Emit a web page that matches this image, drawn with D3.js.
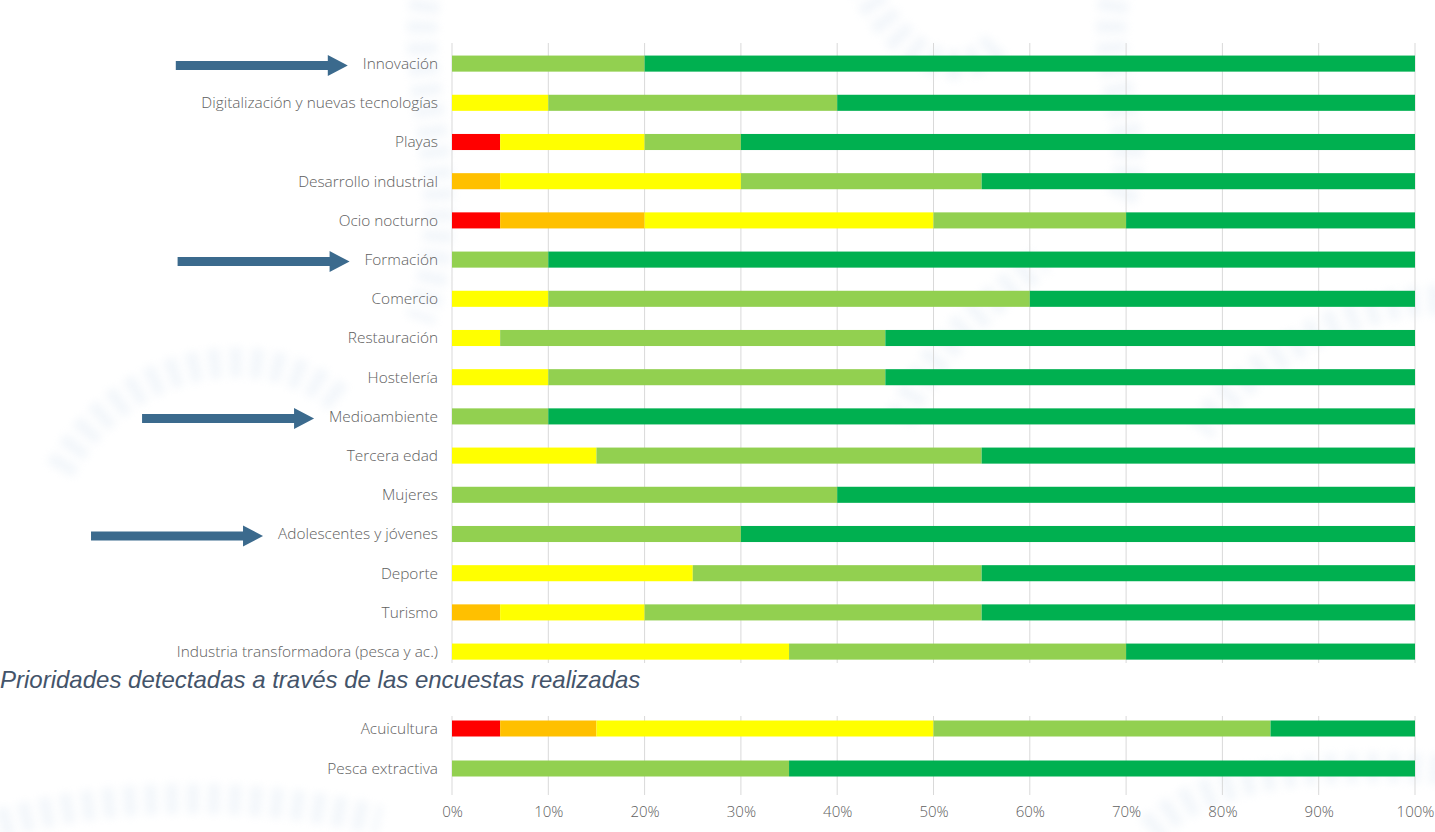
<!DOCTYPE html>
<html>
<head>
<meta charset="utf-8">
<script src="https://cdn.jsdelivr.net/npm/d3@7"></script>
<style>
  html, body { margin: 0; padding: 0; background: #fff; }
  svg { display: block; }
</style>
</head>
<body>
<div id="chart"></div>
<script>
// categories (top block and bottom block)
const topCategories = [
  "Innovación", "Digitalización y nuevas tecnologías", "Playas", "Desarrollo industrial",
  "Ocio nocturno", "Formación", "Comercio", "Restauración", "Hostelería", "Medioambiente",
  "Tercera edad", "Mujeres", "Adolescentes y jóvenes", "Deporte", "Turismo",
  "Industria transformadora (pesca y ac.)"
];
const bottomCategories = ["Acuicultura", "Pesca extractiva"];

// priority levels, lowest to highest (percent of answers)
const nivel1 = [0, 0, 5, 0, 5, 0, 0, 0, 0, 0, 0, 0, 0, 0, 0, 0,   5, 0];
const nivel2 = [0, 0, 0, 5, 15, 0, 0, 0, 0, 0, 0, 0, 0, 0, 5, 0,  10, 0];
const nivel3 = [0, 10, 15, 25, 30, 0, 10, 5, 10, 0, 15, 0, 0, 25, 15, 35,  35, 0];
const nivel4 = [20, 30, 10, 25, 20, 10, 50, 40, 35, 10, 40, 40, 30, 30, 35, 35,  35, 35];
const nivel5 = [80, 60, 70, 45, 30, 90, 40, 55, 55, 90, 45, 60, 70, 45, 45, 30,  15, 65];

const levels = ["nivel1", "nivel2", "nivel3", "nivel4", "nivel5"];
const levelColors = ["#ff0000", "#ffc000", "#ffff00", "#92d050", "#00b050"];

const xTicks = [0, 10, 20, 30, 40, 50, 60, 70, 80, 90, 100];
const highlighted = ["Innovación", "Formación", "Medioambiente", "Adolescentes y jóvenes"];
const caption = "Prioridades detectadas a través de las encuestas realizadas";

const width = 1435, height = 832;

const allCategories = topCategories.concat(bottomCategories);
const rows = allCategories.map((c, i) => ({
  cat: c, nivel1: nivel1[i], nivel2: nivel2[i], nivel3: nivel3[i], nivel4: nivel4[i], nivel5: nivel5[i]
}));

const svg = d3.select("#chart").append("svg")
  .attr("width", width)
  .attr("height", height);

// faint rope watermark in the background
const defs = svg.append("defs");
defs.append("filter").attr("id", "soft")
  .attr("x", "-20%").attr("y", "-20%").attr("width", "140%").attr("height", "140%")
  .append("feGaussianBlur").attr("stdDeviation", 4);

const rope = svg.append("g")
  .attr("filter", "url(#soft)")
  .attr("fill", "none")
  .attr("stroke", "#cfdeee")
  .attr("stroke-width", 30)
  .attr("stroke-dasharray", "12 9")
  .attr("opacity", 0.25);
const ropePaths = [
  "M 430 -20 C 400 80, 470 180, 420 320",
  "M 60 470 C 120 360, 260 330, 340 400",
  "M 860 -20 C 900 60, 960 90, 1000 40",
  "M 1120 -20 C 1090 60, 1150 140, 1120 200",
  "M 1440 300 C 1350 300, 1250 360, 1200 430",
  "M 900 420 C 940 330, 1000 300, 1040 260",
  "M -20 830 C 100 790, 250 790, 380 820",
  "M 1150 830 C 1200 780, 1300 760, 1440 770"
];
rope.selectAll("path").data(ropePaths).enter().append("path").attr("d", d => d);

const x = d3.scaleLinear().domain([0, 100]).range([452, 1415]);

const yTop = d3.scaleBand().domain(topCategories).range([44, 671.2]).paddingInner(0.59).paddingOuter(0.295);
const yBottom = d3.scaleBand().domain(bottomCategories).range([708.5, 788.5]).paddingInner(0.6).paddingOuter(0.3);

const blocks = [
  { y: yTop, grid: [43, 663], data: rows.slice(0, topCategories.length) },
  { y: yBottom, grid: [716, 795], data: rows.slice(topCategories.length) }
];

const stack = d3.stack().keys(levels);
const color = d3.scaleOrdinal().domain(levels).range(levelColors);

const labelFont = "'Segoe UI', 'Open Sans', sans-serif";

blocks.forEach(b => {
  // vertical gridlines
  svg.append("g")
    .selectAll("line")
    .data(xTicks)
    .enter().append("line")
      .attr("x1", d => x(d)).attr("x2", d => x(d))
      .attr("y1", b.grid[0]).attr("y2", b.grid[1])
      .attr("stroke", "#d9d9d9")
      .attr("stroke-width", 1);

  svg.append("g")
    .selectAll("g")
    .data(stack(b.data))
    .enter().append("g")
      .attr("fill", d => color(d.key))
    .selectAll("rect")
    .data(d => d)
    .enter().append("rect")
      .attr("x", d => x(d[0]))
      .attr("y", d => b.y(d.data.cat))
      .attr("width", d => x(d[1]) - x(d[0]))
      .attr("height", b.y.bandwidth());

  svg.append("g")
    .selectAll("text")
    .data(b.y.domain())
    .enter().append("text")
      .attr("class", "cat")
      .attr("x", 438)
      .attr("y", d => b.y(d) + b.y.bandwidth() / 2)
      .attr("dy", "0.35em")
      .attr("text-anchor", "end")
      .style("font-family", labelFont)
      .style("font-weight", 300)
      .style("font-size", "15.4px")
      .style("fill", "#606060")
      .text(d => d);
});

// x axis labels under the bottom block
const xAxis = svg.append("g")
  .attr("transform", "translate(0,795)")
  .call(d3.axisBottom(x).tickValues(xTicks).tickFormat(d => d + "%").tickSize(0).tickPadding(11));
xAxis.select(".domain").remove();
xAxis.selectAll("text")
  .style("font-family", labelFont)
  .style("font-weight", 300)
  .style("font-size", "15px")
  .style("fill", "#606060");

// caption between the two blocks
svg.append("text")
  .attr("x", 0)
  .attr("y", 688)
  .style("font-family", "'Liberation Sans', Arial, sans-serif")
  .style("font-style", "italic")
  .style("font-size", "24px")
  .style("fill", "#44546a")
  .text(caption);

// arrows pointing at highlighted categories
svg.selectAll("text.cat")
  .filter(d => highlighted.includes(d))
  .each(function(d) {
    const bb = this.getBBox();
    const tip = bb.x - 15;
    const cy = yTop(d) + yTop.bandwidth() / 2 + 2;
    const tail = tip - 172, headLen = 20, shaft = 4.5, head = 10.5;
    svg.append("path")
      .attr("d", d3.line()([
        [tail, cy - shaft], [tip - headLen, cy - shaft], [tip - headLen, cy - head],
        [tip, cy], [tip - headLen, cy + head], [tip - headLen, cy + shaft], [tail, cy + shaft]
      ]) + "Z")
      .attr("fill", "#3b6a8d");
  });
</script>
</body>
</html>
